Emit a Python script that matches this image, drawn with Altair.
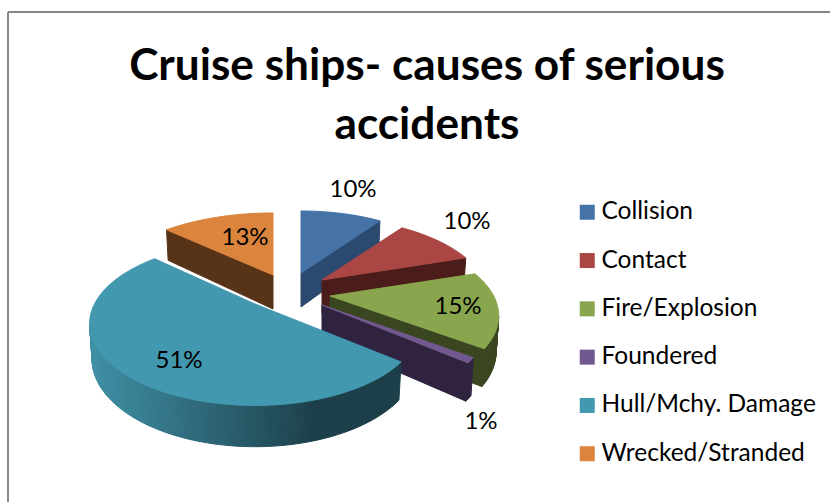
import math
import altair as alt
import pandas as pd

# Accident shares, in drawing order round the pie (clockwise from 12 o'clock).
CATEGORIES = ["Collision", "Contact", "Fire/Explosion", "Foundered", "Hull/Mchy. Damage", "Wrecked/Stranded"]
SHARES = [10, 10, 15, 1, 51, 13]

TOP_COLORS = ["#4572A7", "#AA4643", "#89A54E", "#71588F", "#4198AF", "#DB843D"]
WALL_COLORS = ["#2C4A70", "#4A1D1A", "#3A4620", "#2F233F", "#1B3D48", "#573318"]
FONT = "Lato"

# Tilted-pie model: each exploded slice has its own tip, and the rim is foreshortened by perspective.
TIPS = [(301, 273), (322, 280), (330, 296), (322, 305), (255, 304), (273, 275)]
SPREAD = [1.0, 1.012, 1.02, 1.0, 1.0, 1.06]
FX, FY = 160.5, 77.0
PERSP = 0.241
PAINT_ORDER = [5, 0, 1, 2, 3, 4]


def rim_point(tip, spread, angle):
    u, v = math.sin(angle), math.cos(angle)
    s = 1.0 / (1.0 + PERSP * v)
    return tip[0] + spread * FX * u * s, tip[1] - FY * v * s, s


def lower(tip, pt):
    x, y, s = pt
    return tip[0] + (x - tip[0]) * 0.985, y + 34.0 * s ** 0.7, s


def mix(a, b, t):
    ca = [int(a[i:i + 2], 16) for i in (1, 3, 5)]
    cb = [int(b[i:i + 2], 16) for i in (1, 3, 5)]
    return "#%02x%02x%02x" % tuple(round(p + (q - p) * t) for p, q in zip(ca, cb))


rows = []
poly_id = 0


def add_poly(points, color, name):
    global poly_id
    closed = list(points) + [points[0]]
    for i, p in enumerate(closed):
        rows.append({"poly": poly_id, "i": i, "x": p[0], "y": p[1], "color": color, "category": name})
    poly_id += 1


total = sum(SHARES)
starts = [sum(SHARES[:i]) / total * 360 for i in range(len(SHARES))]

for idx in PAINT_ORDER:
    name = CATEGORIES[idx]
    a0 = starts[idx]
    a1 = a0 + SHARES[idx] / total * 360
    n = max(2, int(a1 - a0))
    tip = TIPS[idx]
    rim = [rim_point(tip, SPREAD[idx], math.radians(a0 + (a1 - a0) * k / n)) for k in range(n + 1)]
    apex = (tip[0], tip[1], 1.0)
    # Side faces: only edges running right-to-left along the clockwise outline face the viewer.
    loop = [apex] + rim + [apex]
    for j in range(len(loop) - 1):
        p, q = loop[j], loop[j + 1]
        if q[0] < p[0]:
            radial = j == 0 or j == len(loop) - 2
            color = WALL_COLORS[idx]
            if name == "Hull/Mchy. Damage" and not radial:
                shade = min(1.0, max(0.0, ((p[0] + q[0]) / 2 - 92) / 225))
                color = mix("#3F8FA5", "#1C3F4A", shade)
            add_poly([p, q, lower(tip, q), lower(tip, p)], color, name)
    add_poly([apex] + rim, TOP_COLORS[idx], name)

polys = pd.DataFrame(rows)

x_scale = alt.Scale(domain=[0, 830], range=[0, 830], nice=False, zero=False)
y_scale = alt.Scale(domain=[0, 502], range=[0, 502], nice=False, zero=False)

pie = alt.Chart(polys).mark_line(strokeWidth=1, interpolate="linear").encode(
    x=alt.X("x:Q", scale=x_scale, axis=None),
    y=alt.Y("y:Q", scale=y_scale, axis=None),
    detail="poly:N",
    order="i:Q",
    fill=alt.Fill("color:N", scale=None),
    stroke=alt.Stroke("color:N", scale=None),
)

# Legend is carried by tiny squares tucked under the pie.
legend_df = pd.DataFrame({"category": CATEGORIES, "x": [200] * 6, "y": [330] * 6})
keys = alt.Chart(legend_df).mark_square(size=1, opacity=1).encode(
    x=alt.X("x:Q", scale=x_scale, axis=None),
    y=alt.Y("y:Q", scale=y_scale, axis=None),
    color=alt.Color(
        "category:N",
        scale=alt.Scale(domain=CATEGORIES, range=TOP_COLORS),
        legend=alt.Legend(
            title=None, orient="none", legendX=575, legendY=200, symbolType="square", symbolSize=225,
            symbolStrokeWidth=0, labelFont=FONT, labelFontSize=24.5, labelColor="#000000", labelLimit=300,
            rowPadding=23.3, labelOffset=2, symbolOpacity=1,
        ),
    ),
)

labels_df = pd.DataFrame({
    "text": [f"{v}%" for v in SHARES],
    "x": [353, 467, 458, 481, 179, 245],
    "y": [190, 222, 307, 422, 361, 238],
})
labels = alt.Chart(labels_df).mark_text(font=FONT, fontSize=24, color="#000000", baseline="middle", align="center").encode(
    x=alt.X("x:Q", scale=x_scale, axis=None),
    y=alt.Y("y:Q", scale=y_scale, axis=None),
    text="text:N",
)

frame_left = alt.Chart(pd.DataFrame({"x": [8], "y": [12], "y2": [502]})).mark_rule(color="#868686", strokeWidth=2).encode(
    x=alt.X("x:Q", scale=x_scale, axis=None),
    y=alt.Y("y:Q", scale=y_scale, axis=None),
    y2="y2:Q",
)
frame_top = alt.Chart(pd.DataFrame({"x": [8], "x2": [830], "y": [12]})).mark_rule(color="#868686", strokeWidth=2).encode(
    x=alt.X("x:Q", scale=x_scale, axis=None),
    x2="x2:Q",
    y=alt.Y("y:Q", scale=y_scale, axis=None),
)

chart = alt.layer(frame_left, frame_top, keys, pie, labels).properties(
    width=830,
    height=502,
    padding=0,
    autosize=alt.AutoSizeParams(type="none"),
    title=alt.TitleParams(
        text=["Cruise ships- causes of serious", "accidents"],
        font=FONT, fontSize=44.2, fontWeight="bold", color="#000000",
        anchor="start", align="center", dx=427, dy=183, lineHeight=59, baseline="alphabetic", offset=0,
    ),
).configure_view(stroke=None)

chart.save("out.html", embed_options={"renderer": "svg", "actions": False})
